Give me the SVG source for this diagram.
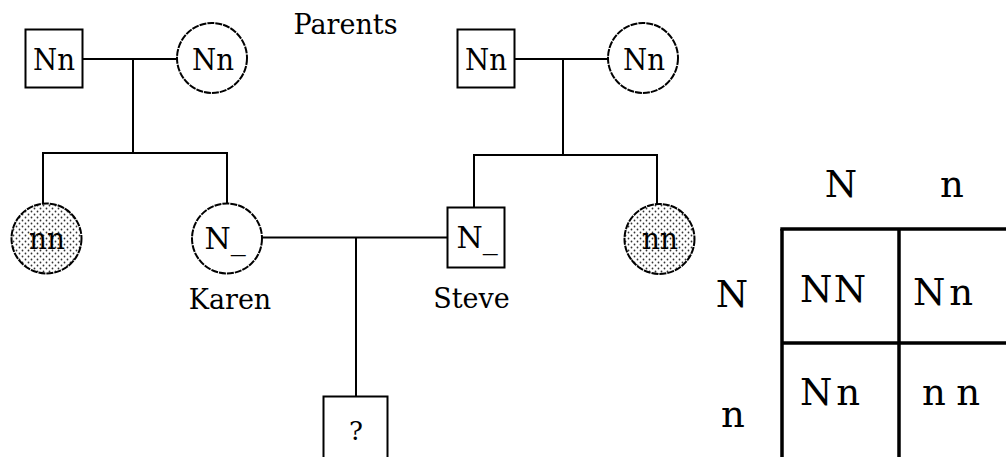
<svg xmlns="http://www.w3.org/2000/svg" width="1006" height="457" viewBox="0 0 1006 457">
<defs>
<pattern id="dots" width="6" height="6" patternUnits="userSpaceOnUse">
<rect width="6" height="6" fill="#ffffff"/>
<circle cx="1.5" cy="1.5" r="0.9" fill="#333"/>
<circle cx="4.5" cy="4.5" r="0.9" fill="#333"/>
</pattern>
</defs>
<style>
.sq{fill:#fff;stroke:#000;stroke-width:2}
.ci{fill:#fff;stroke:#000;stroke-width:2;stroke-dasharray:7 1}
.sh{fill:url(#dots);stroke:#000;stroke-width:2;stroke-dasharray:7 1}
.ln{stroke:#000;stroke-width:2;fill:none}
.grid{stroke:#000;stroke-width:3.5;fill:none}
.t{font-family:"DejaVu Serif","Liberation Serif",serif;font-size:27px;fill:#000;text-anchor:middle}
.n{font-family:"DejaVu Serif","Liberation Serif",serif;font-size:30px;fill:#000;text-anchor:middle}
.p{font-family:"DejaVu Serif","Liberation Serif",serif;font-size:37px;fill:#000;text-anchor:middle}
</style>
<rect width="1006" height="457" fill="#fff"/>
<g id="connectors">
<line class="ln" x1="83" y1="59" x2="177" y2="59"/>
<line class="ln" x1="133" y1="59" x2="133" y2="153"/>
<polyline class="ln" points="43,204 43,153 227,153 227,204"/>
<line class="ln" x1="514" y1="59" x2="608" y2="59"/>
<line class="ln" x1="563" y1="59" x2="563" y2="155"/>
<polyline class="ln" points="474,207 474,155 657,155 657,204"/>
<line class="ln" x1="262" y1="237.5" x2="447" y2="237.5"/>
<line class="ln" x1="356" y1="237.5" x2="356" y2="396"/>
</g>
<text class="t" x="345.5" y="34">Parents</text>
<g id="gf1"><rect class="sq" x="25.5" y="29.5" width="57" height="58"/><text class="n" x="54" y="70" textLength="42" lengthAdjust="spacingAndGlyphs">Nn</text></g>
<g id="gm1"><circle class="ci" cx="212" cy="58" r="35"/><text class="n" x="213" y="70" textLength="42" lengthAdjust="spacingAndGlyphs">Nn</text></g>
<g id="gf2"><rect class="sq" x="457.5" y="29.5" width="57" height="58"/><text class="n" x="486" y="70" textLength="42" lengthAdjust="spacingAndGlyphs">Nn</text></g>
<g id="gm2"><circle class="ci" cx="643" cy="58" r="35"/><text class="n" x="644" y="70" textLength="42" lengthAdjust="spacingAndGlyphs">Nn</text></g>
<g id="sib1"><circle class="sh" cx="46.5" cy="238.5" r="35"/><text class="n" x="47" y="249" textLength="36" lengthAdjust="spacingAndGlyphs">nn</text></g>
<g id="karen"><circle class="ci" cx="227" cy="238.5" r="35"/><text class="n" x="225" y="249">N_</text><text class="t" x="230" y="309">Karen</text></g>
<g id="steve"><rect class="sq" x="447.5" y="207.5" width="57" height="60"/><text class="n" x="477" y="248">N_</text><text class="t" x="471.5" y="308">Steve</text></g>
<g id="sib2"><circle class="sh" cx="659.5" cy="239" r="35"/><text class="n" x="660" y="249" textLength="36" lengthAdjust="spacingAndGlyphs">nn</text></g>
<g id="child"><rect class="sq" x="323.5" y="396.5" width="64" height="70"/><text class="n" x="356" y="440" style="font-size:26px">?</text></g>
<g id="punnett">
<line class="grid" x1="782" y1="229" x2="782" y2="457"/>
<line class="grid" x1="899" y1="229" x2="899" y2="457"/>
<line class="grid" x1="780.3" y1="229" x2="1006" y2="229"/>
<line class="grid" x1="782" y1="343" x2="1006" y2="343"/>
<text class="p" x="841" y="197">N</text>
<text class="p" x="952" y="197">n</text>
<text class="p" x="732" y="307">N</text>
<text class="p" x="733" y="427">n</text>
<text class="p" x="833" y="302" textLength="66" lengthAdjust="spacing">NN</text>
<text class="p" x="943" y="305" textLength="60" lengthAdjust="spacing">Nn</text>
<text class="p" x="830" y="405" textLength="60" lengthAdjust="spacing">Nn</text>
<text class="p" x="951" y="405" textLength="58" lengthAdjust="spacing">nn</text>
</g>
</svg>
